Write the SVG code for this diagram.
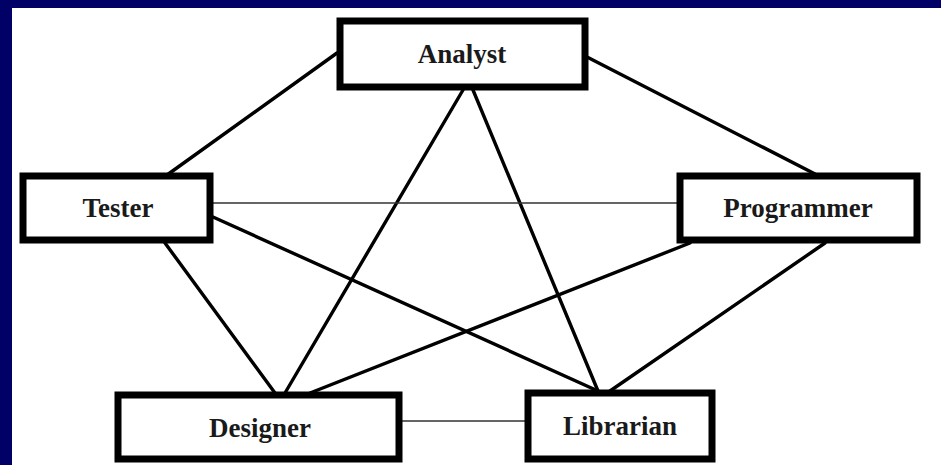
<svg xmlns="http://www.w3.org/2000/svg" width="941" height="465" viewBox="0 0 941 465">
  <style>
    .frame { fill: #000066; }
    .link { stroke: #000; stroke-width: 3.4; stroke-linecap: round; fill: none; }
    .link.thin { stroke: #333; stroke-width: 1.6; }
    .box { fill: #fff; stroke: #000; stroke-width: 7; }
    .label { font-family: "Liberation Serif", "Times New Roman", serif; font-weight: bold; font-size: 27px; text-anchor: middle; fill: #1a1a1a; }
  </style>

  <!-- page background with navy frame on top and left -->
  <rect x="0" y="0" width="941" height="465" fill="#fff"/>
  <rect class="frame" x="0" y="0" width="941" height="8"/>
  <rect class="frame" x="0" y="0" width="12" height="465"/>

  <g id="connectors">
    <line class="link" x1="337" y1="53" x2="167" y2="175"/>
    <line class="link" x1="587" y1="57" x2="817" y2="175"/>
    <line class="link" x1="463" y1="90" x2="285" y2="393"/>
    <line class="link" x1="473" y1="90" x2="598" y2="391"/>
    <line class="link" x1="213" y1="217" x2="598" y2="391"/>
    <line class="link" x1="165" y1="243" x2="275" y2="393"/>
    <line class="link" x1="690" y1="243" x2="310" y2="393"/>
    <line class="link" x1="825" y1="243" x2="610" y2="391"/>
    <line class="link thin" x1="213" y1="203" x2="677" y2="203"/>
    <line class="link thin" x1="402" y1="421" x2="525" y2="421"/>
  </g>

  <g id="analyst">
    <rect class="box" x="340" y="21" width="245" height="66"/>
    <text class="label" x="462" y="63">Analyst</text>
  </g>
  <g id="tester">
    <rect class="box" x="23" y="176" width="187" height="64"/>
    <text class="label" x="118" y="217">Tester</text>
  </g>
  <g id="programmer">
    <rect class="box" x="680" y="176" width="237" height="64"/>
    <text class="label" x="798" y="217">Programmer</text>
  </g>
  <g id="designer">
    <rect class="box" x="118" y="395" width="281" height="64"/>
    <text class="label" x="260" y="437">Designer</text>
  </g>
  <g id="librarian">
    <rect class="box" x="528" y="393" width="184" height="66"/>
    <text class="label" x="620" y="435">Librarian</text>
  </g>
</svg>
